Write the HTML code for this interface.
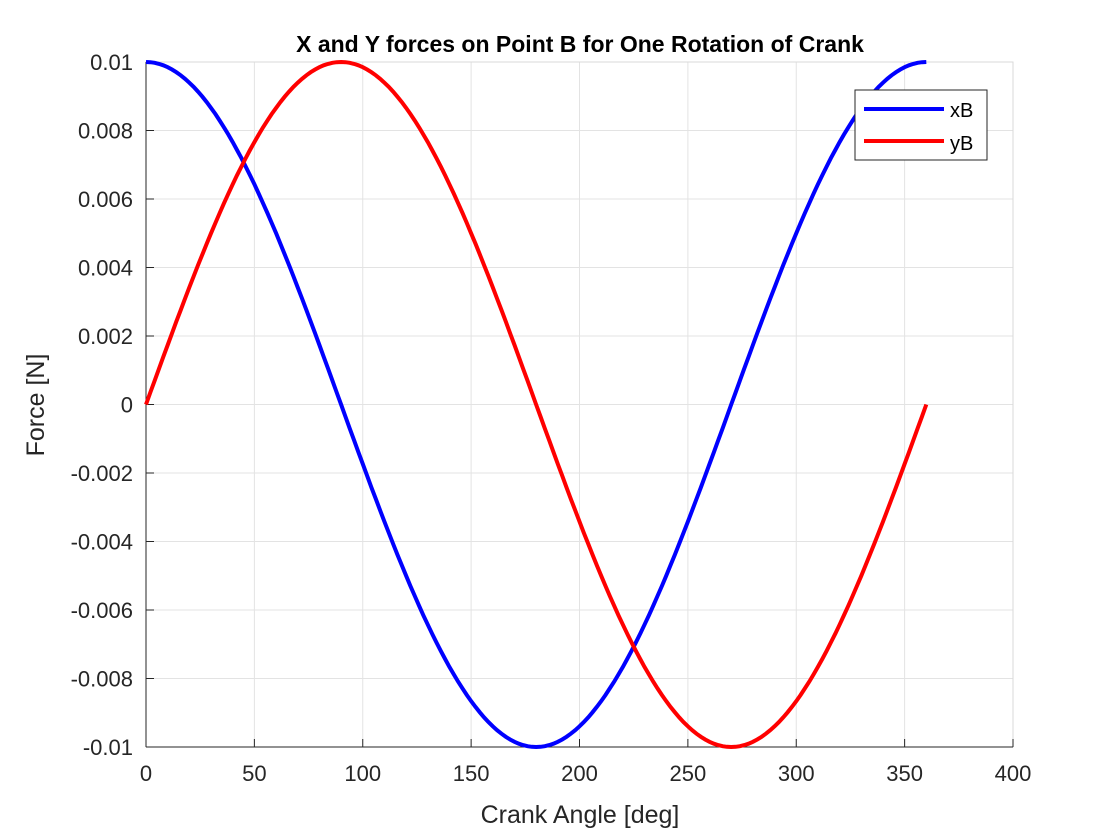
<!DOCTYPE html>
<html><head><meta charset="utf-8"><style>
body{margin:0;background:#fff;}
svg{display:block;font-family:"Liberation Sans",Arial,sans-serif;}
</style></head><body>
<svg id="s" width="1120" height="840" viewBox="0 0 1120 840">
<rect width="1120" height="840" fill="#fff"/>
<g id="grid" stroke="#e3e3e3" stroke-width="1"></g>
<rect x="146" y="62" width="867" height="685" fill="none" stroke="#d9d9d9"/>
<line x1="146" y1="747" x2="1013" y2="747" stroke="#262626"/>
<line x1="146" y1="62" x2="146" y2="747" stroke="#262626"/>
<g id="ticks" stroke="#262626"></g>
<g id="lbl" fill="#262626" font-size="22"></g>
<path id="px" fill="none" stroke="#0000ff" stroke-width="4"/>
<path id="py" fill="none" stroke="#ff0000" stroke-width="4"/>
<text x="580" y="52" text-anchor="middle" font-size="23" font-weight="bold" fill="#000">X and Y forces on Point B for One Rotation of Crank</text>
<text x="580" y="823" text-anchor="middle" font-size="25" fill="#262626">Crank Angle [deg]</text>
<text transform="translate(44,405) rotate(-90)" text-anchor="middle" font-size="25" fill="#262626">Force [N]</text>
<rect x="855" y="90" width="132" height="70" fill="#fff" stroke="#262626"/>
<line x1="864" y1="109" x2="944" y2="109" stroke="#0000ff" stroke-width="4"/>
<line x1="864" y1="141" x2="944" y2="141" stroke="#ff0000" stroke-width="4"/>
<text x="950" y="117" font-size="20" fill="#000">xB</text>
<text x="950" y="150" font-size="20" fill="#000">yB</text>
</svg>
<script>
var X=function(d){return 146+d*867/400;},Y=function(v){return 404.5-v*34250;};
var g=document.getElementById('grid'),t=document.getElementById('ticks'),l=document.getElementById('lbl'),NS='http://www.w3.org/2000/svg';
function el(p,n,a,txt){var e=document.createElementNS(NS,n);for(var k in a)e.setAttribute(k,a[k]);if(txt!==undefined)e.textContent=txt;p.appendChild(e);}
for(var i=0;i<=8;i++){var x=X(i*50);if(i>0&&i<8)el(g,'line',{x1:x,y1:62,x2:x,y2:747});el(t,'line',{x1:x,y1:747,x2:x,y2:739});el(l,'text',{x:x,y:781,'text-anchor':'middle'},String(i*50));}
var labs=['-0.01','-0.008','-0.006','-0.004','-0.002','0','0.002','0.004','0.006','0.008','0.01'];
for(var j=0;j<=10;j++){var v=-0.01+j*0.002,y=Y(v);if(j>0&&j<10)el(g,'line',{x1:146,y1:y,x2:1013,y2:y});el(t,'line',{x1:146,y1:y,x2:154,y2:y});el(l,'text',{x:133,y:y+8,'text-anchor':'end'},labs[j]);}
var a='',b='';for(var d=0;d<=360;d+=2){var r=d*Math.PI/180;a+=(d?'L':'M')+X(d).toFixed(1)+','+Y(0.01*Math.cos(r)).toFixed(1);b+=(d?'L':'M')+X(d).toFixed(1)+','+Y(0.01*Math.sin(r)).toFixed(1);}
document.getElementById('px').setAttribute('d',a);document.getElementById('py').setAttribute('d',b);
</script>
</body></html>
